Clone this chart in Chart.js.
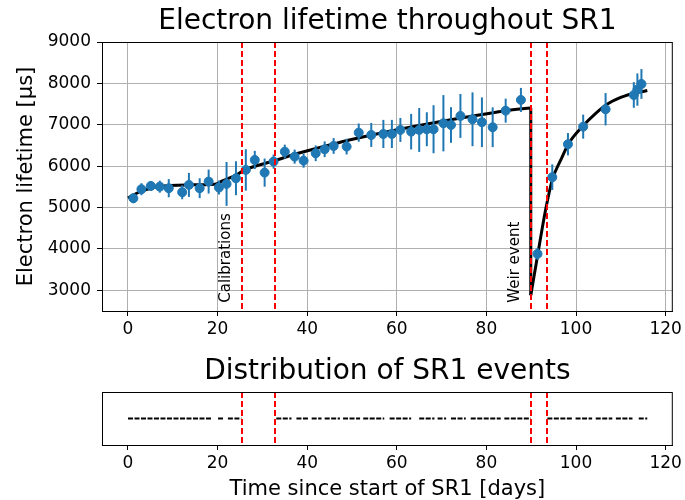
<!DOCTYPE html>
<html>
<head>
<meta charset="utf-8">
<script src="https://cdn.jsdelivr.net/npm/chart.js@4/dist/chart.umd.min.js"></script>
<style>
  body { margin: 0; background: #fff; }
  canvas { position: absolute; left: 0; }
</style>
</head>
<body>
<canvas id="lifetimeChart" width="685" height="345" style="top:0"></canvas>
<canvas id="eventsChart" width="685" height="157" style="top:345px"></canvas>
<script>
// Measured electron lifetime (days since start of SR1, value in us, error in us)
const days = [1.2, 3.0, 5.1, 7.1, 9.1, 12.1, 13.6, 16.0, 18.0, 20.3, 22.0, 24.1, 26.3, 28.3, 30.5, 32.5,
  35.0, 37.2, 39.2, 41.9, 43.9, 45.9, 48.8, 51.5, 54.3, 57.0, 58.9, 60.8, 63.2, 65.0, 66.7, 68.2,
  70.4, 72.1, 74.2, 76.9, 79.0, 81.4, 84.3, 87.7, 91.4, 94.7, 98.2, 101.6, 106.6, 112.9, 113.7, 114.6];
const lifetime = [5225, 5443, 5522, 5505, 5467, 5370, 5547, 5467, 5628, 5484, 5571, 5708, 5909, 6150, 5844, 6110,
  6350, 6230, 6133, 6311, 6408, 6488, 6472, 6810, 6754, 6778, 6778, 6875, 6834, 6875, 6892, 6892,
  7037, 6995, 7213, 7133, 7061, 6940, 7341, 7600, 3880, 5733, 6530, 6955, 7375, 7720, 7850, 7986];
const lifetimeErr = [120, 145, 120, 145, 220, 170, 290, 240, 290, 170, 530, 410, 500, 220, 340, 170,
  170, 170, 170, 190, 190, 190, 190, 220, 290, 340, 340, 290, 430, 530, 410, 580,
  680, 430, 530, 650, 600, 480, 290, 290, 145, 310, 270, 290, 390, 310, 390, 360];

// Fit curve: before and after the weir event
const fitDaysA = [0, 2.7, 5.1, 9.4, 13.1, 19.4, 21.2, 24.2, 25.7, 32.7, 37.6, 45, 49.4, 60.6, 69.5, 78, 84.3, 89.9];
const fitValsA = [5230, 5385, 5467, 5530, 5547, 5563, 5650, 5788, 5890, 6130, 6300, 6510, 6630, 6890, 7075, 7230, 7340, 7405];
const fitDaysB = [89.9, 91.4, 93.2, 94.7, 96.6, 98.4, 101.4, 104.4, 107.3, 111.1, 115.9];
const fitValsB = [2880, 3830, 4940, 5670, 6150, 6553, 6955, 7278, 7520, 7703, 7830];

// Calibration period and weir event boundaries
const markerDays = [25.4, 32.9, 89.9, 93.6];

// Periods with SR1 events (start / end day)
const eventStart = [0, 20.1, 22.3, 33.1, 37.6, 41.0, 43.9, 48.0, 52.5, 58.4, 65.0, 69.1, 72.1, 76.5, 84.0, 93.6, 99.9, 104.4, 108.9, 114.0];
const eventEnd = [18.6, 21.2, 25.3, 36.5, 40.5, 43.2, 47.3, 51.8, 57.2, 63.2, 68.4, 71.0, 75.4, 83.2, 89.9, 99.2, 103.6, 108.1, 112.6, 115.9];

const xTicks = [0, 20, 40, 60, 80, 100, 120];
const yTicks = [3000, 4000, 5000, 6000, 7000, 8000, 9000];

const blue = '#1f77b4';
const font = 'DejaVu Sans';
Chart.defaults.font.family = font;
Chart.defaults.color = '#000';

const xRange = { min: -5.8, max: 121.6 };

// draws the title, the frame and the red dashed lines
const decorations = {
  id: 'decorations',
  afterDatasetsDraw(chart, args, opts) {
    const { ctx, chartArea: a, scales: { x } } = chart;
    ctx.save();
    ctx.beginPath();
    ctx.rect(a.left, a.top, a.right - a.left, a.bottom - a.top);
    ctx.clip();
    ctx.strokeStyle = '#ff0000';
    ctx.lineWidth = 2;
    ctx.setLineDash([6, 3]);
    markerDays.forEach(d => {
      const px = Math.round(x.getPixelForValue(d));
      ctx.beginPath();
      ctx.moveTo(px, a.top);
      ctx.lineTo(px, a.bottom);
      ctx.stroke();
    });
    ctx.restore();

    ctx.save();
    if (opts.notes) {
      const y = chart.scales.y;
      ctx.fillStyle = '#000';
      ctx.font = '15px ' + font;
      ctx.textBaseline = 'middle';
      ctx.textAlign = 'left';
      opts.notes.forEach(n => {
        ctx.save();
        ctx.translate(x.getPixelForValue(n.day), y.getPixelForValue(n.value));
        ctx.rotate(-Math.PI / 2);
        ctx.fillText(n.text, 0, 0);
        ctx.restore();
      });
    }
    ctx.strokeStyle = '#000';
    ctx.lineWidth = 1;
    ctx.strokeRect(a.left + 0.5, a.top + 0.5, a.right - a.left - 1, a.bottom - a.top);
    ctx.font = '28px ' + font;
    ctx.textAlign = 'center';
    ctx.textBaseline = 'middle';
    ctx.fillText(opts.title, (a.left + a.right) / 2, opts.titleY);
    ctx.restore();
  }
};

const errorBars = {
  id: 'errorBars',
  beforeDatasetDraw(chart, args) {
    if (args.index !== 0) return;
    const { ctx, scales: { x, y } } = chart;
    ctx.save();
    ctx.strokeStyle = blue;
    ctx.lineWidth = 2;
    days.forEach((d, i) => {
      const px = x.getPixelForValue(d);
      ctx.beginPath();
      ctx.moveTo(px, y.getPixelForValue(lifetime[i] - lifetimeErr[i]));
      ctx.lineTo(px, y.getPixelForValue(lifetime[i] + lifetimeErr[i]));
      ctx.stroke();
    });
    ctx.restore();
  }
};

const tickFont = { family: font, size: 17 };

new Chart(document.getElementById('lifetimeChart'), {
  type: 'scatter',
  data: {
    datasets: [
      {
        data: days.map((d, i) => ({ x: d, y: lifetime[i] })),
        backgroundColor: blue,
        borderColor: blue,
        pointRadius: 4.5,
        order: 0
      },
      {
        data: fitDaysA.map((d, i) => ({ x: d, y: fitValsA[i] })),
        showLine: true,
        borderColor: '#000',
        borderWidth: 3,
        pointRadius: 0,
        cubicInterpolationMode: 'monotone',
        order: 1
      },
      {
        data: [
          { x: fitDaysA[fitDaysA.length - 1], y: fitValsA[fitValsA.length - 1] },
          { x: fitDaysB[0], y: fitValsB[0] }
        ],
        showLine: true,
        borderColor: '#000',
        borderWidth: 3,
        pointRadius: 0,
        order: 2
      },
      {
        data: fitDaysB.map((d, i) => ({ x: d, y: fitValsB[i] })),
        showLine: true,
        borderColor: '#000',
        borderWidth: 3,
        pointRadius: 0,
        cubicInterpolationMode: 'monotone',
        order: 3
      }
    ]
  },
  options: {
    responsive: false,
    animation: false,
    layout: { padding: { top: 42, right: 12, left: 0, bottom: 0 } },
    plugins: {
      legend: { display: false },
      tooltip: { enabled: false },
      decorations: {
        title: 'Electron lifetime throughout SR1',
        titleY: 22,
        notes: [
          { text: 'Calibrations', day: 21.8, value: 2700 },
          { text: 'Weir event', day: 86.3, value: 2700 }
        ]
      }
    },
    scales: {
      x: {
        type: 'linear',
        min: xRange.min,
        max: xRange.max,
        afterBuildTicks: s => { s.ticks = xTicks.map(v => ({ value: v })); },
        afterFit: s => { s.height = 34; },
        ticks: { font: tickFont, padding: 3, maxRotation: 0, callback: v => String(v) },
        grid: { color: '#b0b0b0', lineWidth: 1, tickLength: 5, tickColor: '#000' },
        border: { color: '#000' }
      },
      y: {
        min: 2500,
        max: 9000,
        afterBuildTicks: s => { s.ticks = yTicks.map(v => ({ value: v })); },
        afterFit: s => { s.width = 102; },
        ticks: { font: tickFont, padding: 6, callback: v => String(v) },
        grid: { color: '#b0b0b0', lineWidth: 1, tickLength: 5, tickColor: '#000' },
        border: { color: '#000' },
        title: {
          display: true,
          text: 'Electron lifetime [μs]',
          font: { family: font, size: 21 },
          padding: { top: 14, bottom: 0 }
        }
      }
    }
  },
  plugins: [errorBars, decorations]
});

// event periods as broken segments on the y = 0 line
const eventPoints = [];
eventStart.forEach((s, i) => {
  eventPoints.push({ x: s, y: 0 }, { x: eventEnd[i], y: 0 }, { x: eventEnd[i], y: null });
});

new Chart(document.getElementById('eventsChart'), {
  type: 'scatter',
  data: {
    datasets: [{
      data: eventPoints,
      showLine: true,
      spanGaps: false,
      borderColor: '#000',
      borderWidth: 2,
      borderDash: [5, 1.5],
      pointRadius: 0
    }]
  },
  options: {
    responsive: false,
    animation: false,
    layout: { padding: { top: 47, right: 12, left: 102, bottom: 0 } },
    plugins: {
      legend: { display: false },
      tooltip: { enabled: false },
      decorations: { title: 'Distribution of SR1 events', titleY: 27 }
    },
    scales: {
      x: {
        type: 'linear',
        min: xRange.min,
        max: xRange.max,
        afterBuildTicks: s => { s.ticks = xTicks.map(v => ({ value: v })); },
        afterFit: s => { s.height = 57; },
        ticks: { font: tickFont, padding: 3, maxRotation: 0, callback: v => String(v) },
        grid: { drawOnChartArea: false, tickLength: 5, tickColor: '#000' },
        border: { color: '#000' },
        title: {
          display: true,
          text: 'Time since start of SR1 [days]',
          font: { family: font, size: 21 },
          padding: { top: 0, bottom: 0 }
        }
      },
      y: { display: false, min: -1, max: 1 }
    }
  },
  plugins: [decorations]
});
</script>
</body>
</html>
